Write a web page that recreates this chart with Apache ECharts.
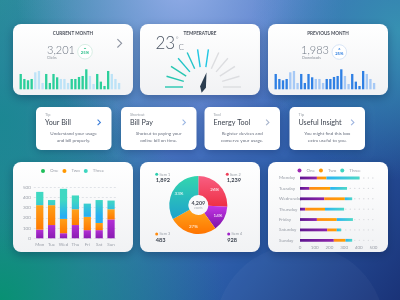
<!DOCTYPE html>
<html><head><meta charset="utf-8">
<script src="https://cdn.jsdelivr.net/npm/echarts@6/dist/echarts.min.js"></script>
<style>html,body{margin:0;padding:0;background:#2f6fa8;overflow:hidden}#c{width:400px;height:300px}</style>
</head><body><div id="c"></div><script>
// ---------- data ----------
const monthDays = ['1','2','3','4','5','6','7','8','9','10','11','12','13','14','15','16','17','18','19','20','21','22','23','24','25','26','27','28'];
const clicksStrong = [46,31,27,31,null,null,null,46,19,46,36,null,null,null,31,31,37,40,60,null,null,46,23,10,55,null,null,null];
const clicksLight  = [null,null,null,null,51,55,19,null,null,null,null,31,31,19,null,null,null,null,null,40,16,null,null,null,null,46,31,19];
const downloadsStrong = [46,31,27,31,null,null,null,46,19,46,36,null,null,null,31,31,37,40,60,null,null,46,23,10,55,null,null,null];
const downloadsLight  = [null,null,null,null,51,55,19,null,null,null,null,31,31,19,null,null,null,null,null,40,16,null,null,null,null,46,31,19];
const temperature = 23;
const temperatureMax = 40;
const weekDays = ['Mon','Tue','Wed','Thu','Fri','Sat','Sun'];
const vOne   = [85,130,50,130,80,80,185];
const vTwo   = [240,195,140,155,130,70,100];
const vThree = [130,50,295,135,130,225,85];
const vTicks = [0,100,200,300,400,500];
const fullDays = ['Monday','Tuesday','Wednesday','Thursday','Friday','Saturday','Sunday'];
const hOne   = [115,65,165,35,115,185,230];
const hTwo   = [65,140,140,135,135,65,80];
const hThree = [225,115,50,130,110,30,45];
const hTrack = [500,500,500,500,500,500,500];
const pieItems  = ['Item 2','Item 4','Item 3','Item 1'];
const pieShares = [26,14,27,33];
const itemCounts = {'Item 1':'1,892','Item 2':'1,239','Item 3':'483','Item 4':'928'};
const pieTotal = '4,209';
const tipCards = [
  ['Tip','Your Bill','Understand your usage','and bill properly.'],
  ['Shortcut','Bill Pay','Shotcut to paying your','online bill on time.'],
  ['Tool','Energy Tool','Register devices and','conserve your usage.'],
  ['Tip','Useful Insight','You might find this box','extra useful to you.']
];

// ---------- helpers ----------
const G = echarts.graphic;
const FONT = 'Lato, "Open Sans", sans-serif';
const lin = (x0,y0,x1,y1,stops,global)=> new G.LinearGradient(x0,y0,x1,y1,stops.map((c,i)=>({offset:c[0],color:c[1]})),global);
const rad = (x,y,r,c0,c1)=> new G.RadialGradient(x,y,r,[{offset:0,color:c0},{offset:1,color:c1}]);
function card(x,y,w,h,r){return {type:'rect',z:-1,shape:{x,y,width:w,height:h,r},style:{fill:lin(0,0,0,1,[[0,'#ffffff'],[1,'#f1f2f4']]),shadowBlur:10,shadowOffsetY:3,shadowColor:'rgba(10,30,70,0.35)'}};}
function txt(t,x,y,size,color,o){return {type:'text',z:3,style:Object.assign({text:t,x,y,fontSize:size,fill:color,fontFamily:FONT,align:'left',verticalAlign:'middle'},o||{})};}
function chev(x,y,color,s){return {type:'polyline',z:3,shape:{points:[[x-s/2,y-s],[x+s/2,y],[x-s/2,y+s]]},style:{stroke:color,lineWidth:1.1,fill:null}};}
function badge(cx,cy,color,ring,label){return [
  {type:'circle',z:3,shape:{cx,cy,r:7.3},style:{fill:'#ffffff',stroke:ring,lineWidth:0.9}},
  {type:'polygon',z:3,shape:{points:[[cx-1.3,cy-2.6],[cx+1.3,cy-2.6],[cx,cy-4]]},style:{fill:color}},
  txt(label,cx,cy+1.3,4.2,color,{align:'center',fontWeight:'bold'})
];}
function dot(cx,cy,color){return {type:'circle',z:3,shape:{cx,cy,r:1.5},style:{fill:color}};}
const bg = fill => ({type:'rect',z:-2,shape:{x:0,y:0,width:400,height:300},style:{fill}});

const graphics = [
  bg(lin(0,0,1,1,[[0,'#2c8c9c'],[0.45,'#4672c2'],[0.7,'#2a5aa6'],[1,'#1a3378']])),
  bg(rad(0,1,0.75,'rgba(8,145,115,1)','rgba(8,145,115,0)')),
  bg(rad(0,0.4,0.45,'rgba(25,135,145,0.85)','rgba(25,135,145,0)')),
  bg(rad(0.45,-0.05,0.55,'rgba(160,180,240,0.85)','rgba(160,180,240,0)')),
  bg(rad(1,0.1,0.5,'rgba(55,145,178,1)','rgba(55,145,178,0)')),
  {type:'circle',z:-2,shape:{cx:300,cy:330,r:85},style:{fill:'rgba(255,255,255,0.035)'}},
  card(13,24,120,71,8), card(140,24,120,71,8), card(268,24,120,71,8),
  card(13,162,120,90,8), card(140,162,120,90,8), card(268,162,120,90,8),
  // top-left card
  txt('CURRENT MONTH',73,34,4.6,'#4a4f5a',{align:'center',fontWeight:'bold'}),
  txt('3,201',47,50,11,'#6b7480',{fontWeight:300}),
  txt('Clicks',47,58,3.8,'#8a9099'),
  ...badge(85,51.7,'#2bbf8a','#d4ece2','25%'),
  chev(119.5,43.3,'#8c92a0',4.2),
  // temperature card
  txt('TEMPERATURE',200,34,4.6,'#4a4f5a',{align:'center',fontWeight:'bold'}),
  txt(String(temperature),155.5,43.5,17,'#4b5563',{fontWeight:300}),
  txt('°',176,39.5,6,'#4b5563',{fontWeight:300}),
  txt('C',178.5,47,8,'#4b5563',{fontWeight:300}),
  // previous month
  txt('PREVIOUS MONTH',328,34,4.6,'#4a4f5a',{align:'center',fontWeight:'bold'}),
  txt('1,983',301,50,11,'#6b7480',{fontWeight:300}),
  txt('Downloads',302,58,3.8,'#8a9099'),
  ...badge(339.3,52,'#2f7fe0','#d4e2f5','25%'),
  // pie corner labels
  dot(156.7,174.3,'#2fcfb0'), txt('Item 1',159.5,174.3,3.8,'#9aa0a8'), txt(itemCounts['Item 1'],155.7,180.2,5.6,'#3d4450',{fontWeight:'bold'}),
  dot(227.3,174.3,'#f0405a'), txt('Item 2',230,174.3,3.8,'#9aa0a8'), txt(itemCounts['Item 2'],226.7,180.2,5.6,'#3d4450',{fontWeight:'bold'}),
  dot(156.7,234,'#ff8c10'), txt('Item 3',159.5,234,3.8,'#9aa0a8'), txt(itemCounts['Item 3'],155.7,240,5.6,'#3d4450',{fontWeight:'bold'}),
  dot(228.7,234,'#a020c8'), txt('Item 4',231.5,234,3.8,'#9aa0a8'), txt(itemCounts['Item 4'],227.3,240,5.6,'#3d4450',{fontWeight:'bold'}),
  txt(pieTotal,198.3,203.3,5.4,'#4a4f5a',{align:'center',fontWeight:'bold'}),
  txt('events',198.3,207.8,2.8,'#a0a6ae',{align:'center'})
];
// tip cards
const tipX = [36,121,204.5,289.5];
const chevColors = ['#3b7dd8','#9ab6e3','#a7b4cc','#9db4e0'];
tipCards.forEach((c,i)=>{
  const x = tipX[i];
  graphics.push({type:'rect',z:-1,shape:{x,y:107,width:75.5,height:43,r:5},style:{fill:'#ffffff',shadowBlur:8,shadowOffsetY:2,shadowColor:'rgba(10,30,70,0.3)'}});
  graphics.push(txt(c[0],x+9,114.8,3.9,'#9aa0a8'));
  graphics.push(txt(c[1],x+9,122.4,7.2,'#3d4450'));
  graphics.push(chev(x+63,122.4,chevColors[i],2.8));
  graphics.push(txt(c[2],x+37.7,133.6,4.6,'#6b7280',{align:'center'}));
  graphics.push(txt(c[3],x+37.7,141,4.6,'#6b7280',{align:'center'}));
});

const axisFont = {fontSize:4.5,color:'#9a9fa8',fontFamily:FONT,interval:0,hideOverlap:false};
const threeV = lin(0,200,0,216,[[0,'#40d8c2'],[1,'#28aef3']],true);
const pieColors = {
  'Item 1': lin(0,0,0,1,[[0,'#33d6ae'],[1,'#1fa2cc']]),
  'Item 2': lin(0,0,0,1,[[0,'#f85f82'],[1,'#ee2f45']]),
  'Item 3': lin(0,0,0,1,[[0,'#ffa41a'],[1,'#ff7400']]),
  'Item 4': lin(0,0,0,1,[[0,'#c236e6'],[1,'#7e12a6']])
};

const option = {
  animation:false,
  textStyle:{fontFamily:FONT},
  graphic:{elements:graphics},
  legend:[
    {left:41,top:168.5,icon:'circle',itemWidth:4,itemHeight:4,itemGap:4,padding:0,textStyle:{fontSize:4.5,color:'#9a9fa8'},
     data:[{name:'One',itemStyle:{color:'#1fbf5a'}},{name:'Two',itemStyle:{color:'#ff9800'}},{name:'Three',itemStyle:{color:'#3dd6c0'}}]},
    {left:297.5,top:168,icon:'circle',itemWidth:4,itemHeight:4,itemGap:4,padding:0,textStyle:{fontSize:4.5,color:'#9a9fa8'},
     formatter:n=>n.replace(/^h-/,''),
     data:[{name:'h-One',itemStyle:{color:'#9c27b0'}},{name:'h-Two',itemStyle:{color:'#ff9800'}},{name:'h-Three',itemStyle:{color:'#3dd6c0'}}]}
  ],
  grid:[
    {left:18.9,top:69.3,width:102,height:20},
    {left:273.9,top:69.3,width:102,height:20},
    {left:33.8,top:187.3,width:83.2,height:51},
    {left:300,top:178,width:73.5,height:62.3}
  ],
  xAxis:[
    {type:'category',gridIndex:0,data:monthDays,show:false},
    {type:'category',gridIndex:1,data:monthDays,show:false},
    {type:'category',gridIndex:2,data:weekDays,axisLine:{show:false},axisTick:{show:false},axisLabel:Object.assign({margin:4},axisFont)},
    {type:'value',gridIndex:3,min:vTicks[0],max:vTicks[vTicks.length-1],interval:100,splitLine:{show:false},axisLine:{show:false},axisTick:{show:false},axisLabel:Object.assign({margin:4.5},axisFont)}
  ],
  yAxis:[
    {type:'value',gridIndex:0,min:0,max:60,show:false},
    {type:'value',gridIndex:1,min:0,max:60,show:false},
    {type:'value',gridIndex:2,min:vTicks[0],max:vTicks[vTicks.length-1],interval:100,axisLine:{show:false},axisTick:{show:false},
     splitLine:{lineStyle:{type:[2,2],color:'#dadde2',width:0.8}},axisLabel:Object.assign({margin:3},axisFont)},
    {type:'category',gridIndex:3,data:fullDays,inverse:true,boundaryGap:false,axisTick:{show:false},
     axisLine:{lineStyle:{color:'#e3e5e8',width:0.8}},axisLabel:Object.assign({margin:21,align:'left'},axisFont)}
  ],
  series:[
    {type:'bar',name:'clicks',xAxisIndex:0,yAxisIndex:0,stack:'c',barWidth:'64%',data:clicksStrong,itemStyle:{color:'#2ccf9b'},silent:true},
    {type:'bar',name:'clicks2',xAxisIndex:0,yAxisIndex:0,stack:'c',barWidth:'64%',data:clicksLight,itemStyle:{color:'#bde3f7'},silent:true},
    {type:'bar',name:'dl',xAxisIndex:1,yAxisIndex:1,stack:'d',barWidth:'64%',data:downloadsStrong,itemStyle:{color:'#2f80e4'},silent:true},
    {type:'bar',name:'dl2',xAxisIndex:1,yAxisIndex:1,stack:'d',barWidth:'64%',data:downloadsLight,itemStyle:{color:'#a6c9f6'},silent:true},
    {type:'gauge',center:[203,87],radius:38,startAngle:180,endAngle:0,min:0,max:temperatureMax,splitNumber:11,
     axisLine:{show:true,lineStyle:{width:0,color:[[0.2,'#27c6b0'],[0.42,'#22c4c8'],[0.6,'#1ec6e2'],[1,'#dcdde0']]}},
     splitLine:{show:true,length:18,distance:0,lineStyle:{color:'auto',width:1.4}},
     axisTick:{show:false},axisLabel:{show:false},
     pointer:{show:true,length:15,width:3,itemStyle:{color:'#2c3e50'}},
     anchor:{show:false},title:{show:false},detail:{show:false},
     data:[{value:temperature}]},
    {type:'pie',center:[198.3,205],radius:[10,29],startAngle:90,clockwise:true,silent:true,
     label:{show:true,position:'inside',formatter:'{c}%',fontSize:4.5,color:'#ffffff'},labelLine:{show:false},
     data:pieItems.map((n,i)=>({name:n,value:pieShares[i],itemStyle:{color:pieColors[n]}}))},
    {type:'bar',name:'One',xAxisIndex:2,yAxisIndex:2,stack:'v',barWidth:'61%',data:vOne,
     itemStyle:{color:lin(0,0,0,1,[[0,'#b42fd6'],[1,'#8a1cb2']])}},
    {type:'bar',name:'Two',xAxisIndex:2,yAxisIndex:2,stack:'v',barWidth:'61%',data:vTwo,
     itemStyle:{color:lin(0,0,0,1,[[0,'#ffa01a'],[1,'#ff7a00']])}},
    {type:'bar',name:'Three',xAxisIndex:2,yAxisIndex:2,stack:'v',barWidth:'61%',data:vThree,itemStyle:{color:threeV}},
    {type:'pictorialBar',name:'track',xAxisIndex:3,yAxisIndex:3,data:hTrack,symbol:'circle',symbolSize:[1.3,1.3],
     symbolRepeat:true,symbolMargin:1.7,itemStyle:{color:'#d6d8dc'},z:1,silent:true},
    {type:'bar',name:'h-One',xAxisIndex:3,yAxisIndex:3,stack:'h',barWidth:2.8,data:hOne,z:3,
     itemStyle:{color:lin(0,0,1,0,[[0,'#5e1590'],[1,'#8e24aa']])}},
    {type:'bar',name:'h-Two',xAxisIndex:3,yAxisIndex:3,stack:'h',barWidth:2.8,data:hTwo,z:3,
     itemStyle:{color:lin(0,0,1,0,[[0,'#ff8a1a'],[1,'#ffa000']])}},
    {type:'bar',name:'h-Three',xAxisIndex:3,yAxisIndex:3,stack:'h',barWidth:2.8,data:hThree,z:3,
     itemStyle:{color:lin(0,0,1,0,[[0,'#2ab4f4'],[1,'#4ed8c6']])}}
  ]
};
const chart = echarts.init(document.getElementById('c'),null,{renderer:'canvas'});
chart.setOption(option);
</script></body></html>
